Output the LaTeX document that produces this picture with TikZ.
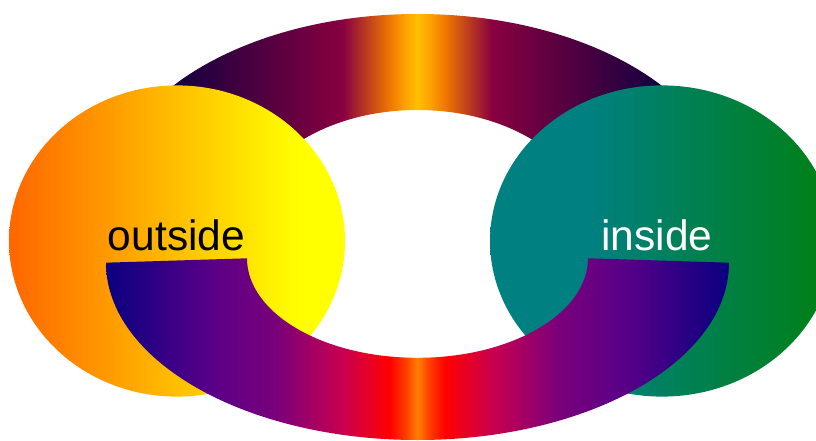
\documentclass[tikz,border=0pt]{standalone}
\usepackage{fontspec}
\setmainfont{Liberation Sans}
\definecolor{tDark}{HTML}{0A0033}
\definecolor{tDeep}{HTML}{140040}
\definecolor{tMaroon}{HTML}{880040}
\definecolor{tOrange}{HTML}{F07800}
\definecolor{tAmber}{HTML}{FFA500}
\definecolor{tGold}{HTML}{FFC000}
\definecolor{bNavy}{HTML}{0A0080}
\definecolor{bIndigo}{HTML}{5A0088}
\definecolor{bPurple}{HTML}{7A007A}
\definecolor{bMagenta}{HTML}{C8004F}
\definecolor{bRed}{HTML}{FF0000}
\definecolor{bRedOr}{HTML}{FF4000}
\definecolor{bOrange}{HTML}{FF8000}
\definecolor{lOrange}{HTML}{FF6600}
\definecolor{lYellow}{HTML}{FFFF00}
\definecolor{rTeal}{HTML}{008080}
\definecolor{rGreen}{HTML}{008012}
\pgfdeclarehorizontalshading{topring}{100bp}{color(0bp)=(tDark); color(25bp)=(tDark); color(30.5bp)=(tDeep); color(44bp)=(tMaroon); color(47.8bp)=(tOrange); color(49.1bp)=(tAmber); color(50bp)=(tGold); color(50.9bp)=(tAmber); color(52.2bp)=(tOrange); color(56bp)=(tMaroon); color(69.5bp)=(tDeep); color(75bp)=(tDark); color(100bp)=(tDark)}
\pgfdeclarehorizontalshading{botring}{100bp}{color(0bp)=(bNavy); color(25bp)=(bNavy); color(33.6bp)=(bIndigo); color(38.7bp)=(bPurple); color(44bp)=(bMagenta); color(47.8bp)=(bRed); color(49.1bp)=(bRedOr); color(50bp)=(bOrange); color(50.9bp)=(bRedOr); color(52.2bp)=(bRed); color(56bp)=(bMagenta); color(61.3bp)=(bPurple); color(66.4bp)=(bIndigo); color(75bp)=(bNavy); color(100bp)=(bNavy)}
\pgfdeclarehorizontalshading{leftdisc}{100bp}{color(0bp)=(lOrange); color(25bp)=(lOrange); color(68bp)=(lYellow); color(100bp)=(lYellow)}
\pgfdeclarehorizontalshading{rightdisc}{100bp}{color(0bp)=(rTeal); color(25bp)=(rTeal); color(39.5bp)=(rTeal); color(75bp)=(rGreen); color(100bp)=(rGreen)}
\tikzset{
  label text/.style={font=\fontsize{42.5}{50}\selectfont, anchor=base, inner sep=0pt}
}
\begin{document}
\begin{tikzpicture}[x=1pt,y=-1pt]
\useasboundingbox (0,0) rectangle (816,441);
% upper half of the ring
\begin{scope}
  \clip (0,0) rectangle (816,250);
  \shade[shading=topring, even odd rule]
    (417.5,203) ellipse [x radius=311.5pt, y radius=189pt]
    (417.5,224) ellipse [x radius=170.5pt, y radius=114pt];
\end{scope}
% discs
\shade[shading=leftdisc] (177,241) ellipse [x radius=168pt, y radius=155.6pt];
\shade[shading=rightdisc] (662,241) ellipse [x radius=172pt, y radius=155.6pt];
% lower half of the ring
\shade[shading=botring] (106,262.7) arc[start angle=180, end angle=360, x radius=311.5pt, y radius=177.3pt]
  -- (588,258.3) arc[start angle=0, end angle=-180, x radius=170.5pt, y radius=99.5pt] -- cycle;
% labels
\node[label text, text=black] (outside) at (176.5,250) {outside};
\node[label text, text=white] (inside) at (657,250) {inside};
\end{tikzpicture}
\end{document}
